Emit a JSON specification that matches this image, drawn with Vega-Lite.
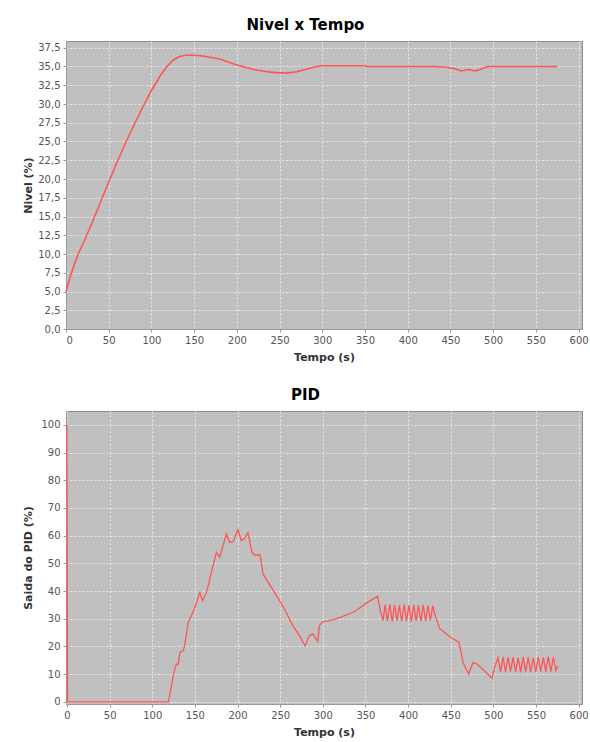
{
  "$schema": "https://vega.github.io/schema/vega-lite/v6.json",
  "background": "#ffffff",
  "padding": {"left": 22, "top": 17, "right": 5, "bottom": 0},
  "datasets": {
    "nivel": [
      {"t": 0, "v": 5.0}, {"t": 5, "v": 7.0}, {"t": 10, "v": 8.7}, {"t": 15, "v": 10.2}, {"t": 20, "v": 11.4},
      {"t": 30, "v": 14.0}, {"t": 40, "v": 16.8}, {"t": 50, "v": 19.6}, {"t": 60, "v": 22.3}, {"t": 70, "v": 24.9},
      {"t": 80, "v": 27.3}, {"t": 90, "v": 29.6}, {"t": 100, "v": 31.8}, {"t": 110, "v": 33.7}, {"t": 118, "v": 35.0},
      {"t": 125, "v": 35.8}, {"t": 132, "v": 36.3}, {"t": 140, "v": 36.5}, {"t": 150, "v": 36.5}, {"t": 160, "v": 36.4},
      {"t": 170, "v": 36.2}, {"t": 180, "v": 36.0}, {"t": 190, "v": 35.6}, {"t": 200, "v": 35.2}, {"t": 210, "v": 34.9},
      {"t": 220, "v": 34.6}, {"t": 230, "v": 34.4}, {"t": 240, "v": 34.25}, {"t": 250, "v": 34.15}, {"t": 260, "v": 34.15},
      {"t": 270, "v": 34.3}, {"t": 280, "v": 34.6}, {"t": 290, "v": 34.9}, {"t": 300, "v": 35.1}, {"t": 350, "v": 35.1},
      {"t": 352, "v": 35.0}, {"t": 430, "v": 35.0}, {"t": 445, "v": 34.9}, {"t": 455, "v": 34.7}, {"t": 463, "v": 34.4},
      {"t": 471, "v": 34.6}, {"t": 479, "v": 34.4}, {"t": 487, "v": 34.7}, {"t": 494, "v": 35.0}, {"t": 575, "v": 35.0}
    ],
    "pid": [
      {"t": 0, "v": 100}, {"t": 0.6, "v": 0}, {"t": 119, "v": 0}, {"t": 124.6, "v": 9.4}, {"t": 127, "v": 12.5},
      {"t": 128.5, "v": 13.6}, {"t": 130.5, "v": 13.6}, {"t": 132.4, "v": 17.8}, {"t": 136.3, "v": 18.4}, {"t": 138.2, "v": 20.9},
      {"t": 142.2, "v": 28.7}, {"t": 146, "v": 31.1}, {"t": 150, "v": 34.1}, {"t": 155.8, "v": 39.5}, {"t": 158.9, "v": 36.5},
      {"t": 163.6, "v": 39.5}, {"t": 169.4, "v": 46.8}, {"t": 175.2, "v": 54.0}, {"t": 179.1, "v": 52.2}, {"t": 187, "v": 60.6},
      {"t": 190.8, "v": 57.6}, {"t": 194.7, "v": 57.8}, {"t": 200.5, "v": 62.2}, {"t": 204.4, "v": 58.2}, {"t": 208.3, "v": 59.0},
      {"t": 212.2, "v": 61.0}, {"t": 216.9, "v": 54.0}, {"t": 220, "v": 53.0}, {"t": 226.5, "v": 53.0}, {"t": 229.8, "v": 46.2},
      {"t": 233.6, "v": 44.3}, {"t": 243.4, "v": 39.5}, {"t": 255, "v": 33.5}, {"t": 264.8, "v": 27.5}, {"t": 272.6, "v": 23.9},
      {"t": 279.2, "v": 20.2}, {"t": 284.3, "v": 23.9}, {"t": 288.2, "v": 24.5}, {"t": 294, "v": 21.8}, {"t": 296, "v": 27.5},
      {"t": 299.9, "v": 28.9}, {"t": 311.5, "v": 29.6}, {"t": 321.3, "v": 30.6}, {"t": 336.8, "v": 32.5}, {"t": 352.5, "v": 35.9},
      {"t": 364.1, "v": 38.1}, {"t": 368, "v": 32.3}, {"t": 370.7, "v": 29.3},
      {"t": 373, "v": 35.0}, {"t": 375.8, "v": 29.2}, {"t": 378.6, "v": 35.2}, {"t": 381.4, "v": 29.0}, {"t": 384.2, "v": 35.0},
      {"t": 387, "v": 29.3}, {"t": 389.8, "v": 34.8}, {"t": 392.6, "v": 29.1}, {"t": 395.4, "v": 35.1}, {"t": 398.2, "v": 29.2},
      {"t": 401, "v": 34.9}, {"t": 403.8, "v": 29.0}, {"t": 406.6, "v": 35.0}, {"t": 409.4, "v": 29.3}, {"t": 412.2, "v": 34.8},
      {"t": 415, "v": 29.1}, {"t": 417.8, "v": 35.0}, {"t": 420.6, "v": 29.2}, {"t": 423.4, "v": 34.7}, {"t": 426.2, "v": 29.4},
      {"t": 429, "v": 34.6}, {"t": 431.5, "v": 31.5}, {"t": 437, "v": 26.5}, {"t": 449.8, "v": 23.3}, {"t": 459.5, "v": 21.5},
      {"t": 461.4, "v": 19.0}, {"t": 464.5, "v": 14.2}, {"t": 471, "v": 10.0}, {"t": 476.3, "v": 14.2}, {"t": 481, "v": 13.6},
      {"t": 498.5, "v": 8.5}, {"t": 501.5, "v": 12.5}, {"t": 505.5, "v": 16.0},
      {"t": 508.4, "v": 10.8}, {"t": 511.4, "v": 16.2}, {"t": 514.3, "v": 10.7}, {"t": 517.3, "v": 16.0}, {"t": 520.2, "v": 10.9},
      {"t": 523.2, "v": 16.1}, {"t": 526.1, "v": 10.8}, {"t": 529.1, "v": 15.9}, {"t": 532, "v": 10.7}, {"t": 535, "v": 16.2},
      {"t": 537.9, "v": 10.9}, {"t": 540.9, "v": 16.0}, {"t": 543.8, "v": 10.8}, {"t": 546.8, "v": 15.8}, {"t": 549.7, "v": 10.7},
      {"t": 552.7, "v": 16.1}, {"t": 555.6, "v": 10.9}, {"t": 558.6, "v": 16.0}, {"t": 561.5, "v": 10.8}, {"t": 564.5, "v": 16.3},
      {"t": 567.4, "v": 10.9}, {"t": 570.4, "v": 16.0}, {"t": 573.5, "v": 11.2}, {"t": 575.5, "v": 13.0}
    ]
  },
  "config": {
    "view": {"fill": "#c0c0c0", "stroke": "#8c8c8c", "strokeWidth": 1},
    "axis": {
      "grid": true, "gridColor": "#ffffff", "gridDash": [2, 2], "gridOpacity": 0.65, "gridWidth": 1,
      "labelFont": "DejaVu Sans", "labelFontSize": 10, "labelColor": "#555555", "labelPadding": 3,
      "titleFont": "DejaVu Sans", "titleFontSize": 11, "titleFontWeight": "bold", "titleColor": "#333333",
      "domainColor": "#999999", "tickColor": "#999999", "tickSize": 3
    },
    "title": {"font": "DejaVu Sans", "fontSize": 15, "fontWeight": "bold", "color": "#000000", "anchor": "middle", "frame": "bounds", "offset": 8}
  },
  "concat": [
    {
      "title": "Nivel x Tempo",
      "width": 516,
      "height": 288,
      "data": {"name": "nivel"},
      "mark": {"type": "line", "color": "#ff5555", "strokeWidth": 1.6},
      "encoding": {
        "x": {"field": "t", "type": "quantitative", "title": "Tempo (s)",
              "scale": {"domain": [0, 604], "nice": false, "zero": false},
              "axis": {"values": [0, 50, 100, 150, 200, 250, 300, 350, 400, 450, 500, 550, 600], "titlePadding": 6}},
        "y": {"field": "v", "type": "quantitative", "title": "Nivel (%)",
              "scale": {"domain": [0, 38.4], "nice": false, "zero": false},
              "axis": {"values": [0, 2.5, 5, 7.5, 10, 12.5, 15, 17.5, 20, 22.5, 25, 27.5, 30, 32.5, 35, 37.5],
                       "labelExpr": "replace(format(datum.value, '.1f'), '.', ',')", "titlePadding": 4}}
      }
    },
    {
      "title": "PID",
      "width": 516,
      "height": 293,
      "data": {"name": "pid"},
      "mark": {"type": "line", "color": "#ff5555", "strokeWidth": 1.3},
      "encoding": {
        "x": {"field": "t", "type": "quantitative", "title": "Tempo (s)",
              "scale": {"domain": [-1.2, 604], "nice": false, "zero": false},
              "axis": {"values": [0, 50, 100, 150, 200, 250, 300, 350, 400, 450, 500, 550, 600], "titlePadding": 6}},
        "y": {"field": "v", "type": "quantitative", "title": "Saida do PID (%)",
              "scale": {"domain": [-0.8, 105], "nice": false, "zero": false},
              "axis": {"values": [0, 10, 20, 30, 40, 50, 60, 70, 80, 90, 100], "titlePadding": 7}}
      }
    }
  ],
  "columns": 1,
  "align": "none",
  "spacing": 24
}
